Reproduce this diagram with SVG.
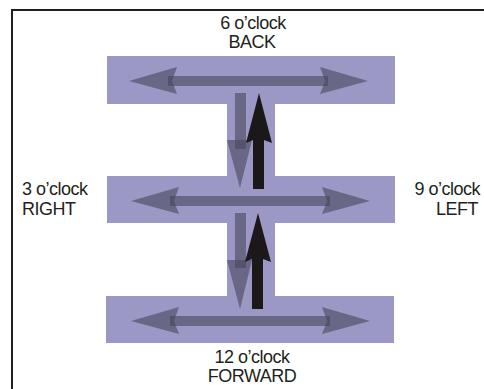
<svg xmlns="http://www.w3.org/2000/svg" width="484" height="389" viewBox="0 0 484 389">
  <style>
    .bar { fill: #9b98c6; }
    .ghost { fill: #48465c; fill-opacity: 0.6; }
    .solid { fill: #1c1819; }
    .label { font-family: "Liberation Sans", Arial, sans-serif; font-size: 18px; letter-spacing: -0.5px; fill: #231f20; }
  </style>
  <defs>
    <!-- double-headed horizontal arrow, centred on y=0 -->
    <g id="h-arrow">
      <rect class="ghost" x="168" y="-5" width="160" height="10"/>
      <polygon class="ghost" points="129,0 177,-14 172,0 177,13"/>
      <polygon class="ghost" points="368,0 320,-14 325,0 320,13"/>
    </g>
  </defs>

  <rect x="12" y="10" width="480" height="390" fill="#ffffff" stroke="#231f20" stroke-width="2"/>

  <!-- links between the bars -->
  <g id="connectors">
    <rect class="bar" x="227" y="103" width="48" height="74"/>
    <rect class="bar" x="227" y="222" width="48" height="75"/>
  </g>

  <g id="back">
    <rect class="bar" x="107" y="56" width="288" height="48"/>
    <use href="#h-arrow" y="81"/>
  </g>
  <g id="middle">
    <rect class="bar" x="107" y="176" width="288" height="47"/>
    <use href="#h-arrow" x="2" y="201"/>
  </g>
  <g id="forward">
    <rect class="bar" x="106" y="296" width="288" height="47"/>
    <use href="#h-arrow" x="2" y="321"/>
  </g>

  <!-- vertical movement arrows -->
  <g id="vertical-arrows">
    <rect class="ghost" x="235" y="93" width="11" height="56"/>
    <polygon class="ghost" points="227,140 252,140 240,188"/>
    <polygon class="solid" points="259,93 272,143 264,140 264,189 253,189 253,140 246,143"/>

    <rect class="ghost" x="235" y="213" width="11" height="55"/>
    <polygon class="ghost" points="227,260 252,260 240,309"/>
    <polygon class="solid" points="258,213 271,262 263,259 263,309 252,309 252,259 245,262"/>
  </g>

  <g id="labels">
    <text class="label" x="253" y="29" text-anchor="middle">6 o’clock</text>
    <text class="label" x="252" y="48" text-anchor="middle">BACK</text>
    <text class="label" x="22" y="195">3 o’clock</text>
    <text class="label" x="22" y="215">RIGHT</text>
    <text class="label" x="480" y="195" text-anchor="end">9 o’clock</text>
    <text class="label" x="478" y="215" text-anchor="end">LEFT</text>
    <text class="label" x="252" y="363" text-anchor="middle">12 o’clock</text>
    <text class="label" x="252" y="382" text-anchor="middle">FORWARD</text>
  </g>
</svg>
